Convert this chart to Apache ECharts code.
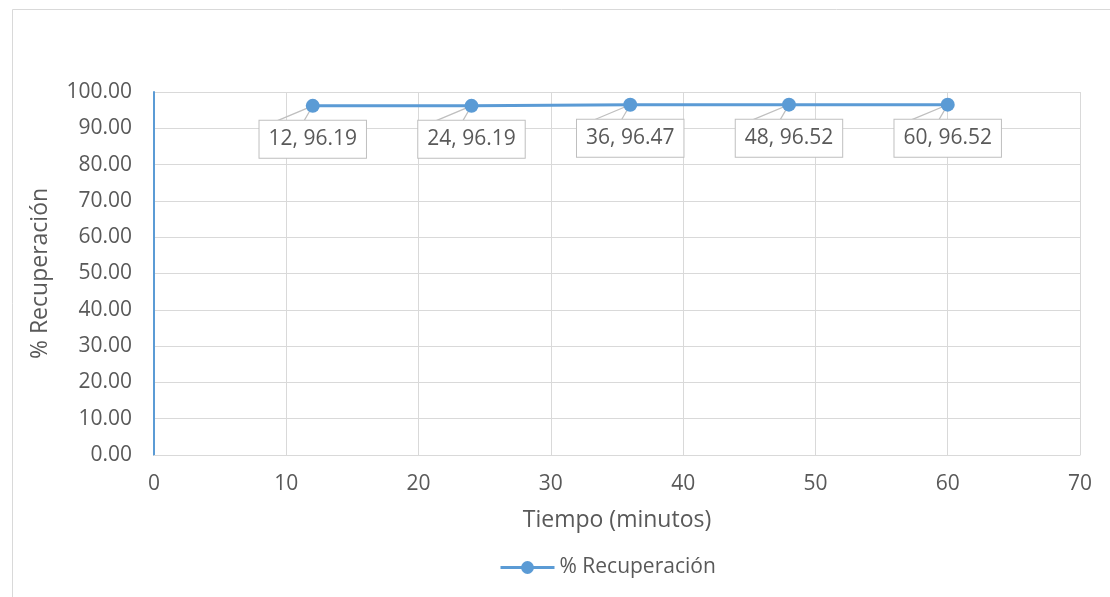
<!DOCTYPE html>
<html>
<head>
<meta charset="utf-8">
<script src="https://cdn.jsdelivr.net/npm/echarts@6/dist/echarts.min.js"></script>
<style>
  html, body { margin: 0; padding: 0; background: #ffffff; }
  #chart { width: 1110px; height: 597px; }
</style>
</head>
<body>
<div id="chart"></div>
<script>
// Recovery percentage over time
const tiempos = [12, 24, 36, 48, 60];
const recuperacion = [96.19, 96.19, 96.47, 96.52, 96.52];
const xTicks = [0, 10, 20, 30, 40, 50, 60, 70];
const yTicks = [0, 10, 20, 30, 40, 50, 60, 70, 80, 90, 100];

const serieNombre = '% Recuperación';
const ejeX = 'Tiempo (minutos)';
const ejeY = '% Recuperación';

const puntos = tiempos.map((t, i) => [t, recuperacion[i]]);

const textColor = '#595959';
const gridColor = '#D9D9D9';
const lineColor = '#5B9BD5';
const fontFam = '"Open Sans", "Noto Sans", sans-serif';

const chart = echarts.init(document.getElementById('chart'), null, { renderer: 'canvas' });

chart.setOption({
  animation: false,
  backgroundColor: '#ffffff',
  graphic: [{
    type: 'rect',
    left: 10, top: 7,
    shape: { width: 1120, height: 620 },
    style: { fill: 'none', stroke: gridColor, lineWidth: 1 },
    silent: true, z: -10
  }],
  grid: { left: 154, right: 30, top: 92, bottom: 142 },
  legend: {
    data: [serieNombre],
    bottom: 14,
    left: 494,
    itemWidth: 54,
    itemHeight: 16,
    itemGap: 8,
    lineStyle: { width: 3 },
    textStyle: { color: textColor, fontSize: 21, fontFamily: fontFam }
  },
  xAxis: {
    type: 'value',
    min: xTicks[0],
    max: xTicks[xTicks.length - 1],
    interval: xTicks[1] - xTicks[0],
    name: ejeX,
    nameLocation: 'middle',
    nameGap: 54,
    nameTextStyle: { color: textColor, fontSize: 23, fontFamily: fontFam },
    axisLine: { show: true, lineStyle: { color: gridColor, width: 1 } },
    axisTick: { show: false },
    axisLabel: { color: textColor, fontSize: 21, fontFamily: fontFam, margin: 19 },
    splitLine: { show: true, lineStyle: { color: gridColor, width: 1 } }
  },
  yAxis: {
    type: 'value',
    min: yTicks[0],
    max: yTicks[yTicks.length - 1],
    interval: yTicks[1] - yTicks[0],
    name: ejeY,
    nameLocation: 'middle',
    nameRotate: 90,
    nameGap: 102,
    nameTextStyle: { color: textColor, fontSize: 23, fontFamily: fontFam },
    axisLine: { show: true, lineStyle: { color: lineColor, width: 2 } },
    axisTick: { show: false },
    axisLabel: {
      color: textColor, fontSize: 21, fontFamily: fontFam, margin: 22,
      formatter: v => v.toFixed(2)
    },
    splitLine: { show: true, lineStyle: { color: gridColor, width: 1 } }
  },
  series: [
    {
      // callout pointers from each label box up to its point
      type: 'custom',
      name: 'callout',
      data: puntos,
      z: 1,
      silent: true,
      renderItem: function (params, api) {
        const p = api.coord([api.value(0), api.value(1)]);
        return {
          type: 'polyline',
          shape: { points: [[p[0] - 37, p[1] + 15.5], [p[0], p[1]], [p[0] - 9, p[1] + 15.5]] },
          style: { fill: 'none', stroke: '#BFBFBF', lineWidth: 1.2 }
        };
      }
    },
    {
      type: 'line',
      name: serieNombre,
      data: puntos,
      z: 3,
      symbol: 'circle',
      symbolSize: 14,
      lineStyle: { color: lineColor, width: 3 },
      itemStyle: { color: lineColor },
      label: {
        show: true,
        position: 'bottom',
        distance: 8,
        formatter: p => p.value[0] + ', ' + p.value[1].toFixed(2),
        color: textColor,
        fontSize: 21,
        lineHeight: 21,
        fontFamily: fontFam,
        backgroundColor: '#ffffff',
        borderColor: '#BFBFBF',
        borderWidth: 1,
        padding: [8, 9, 8, 9]
      }
    }
  ]
});
</script>
</body>
</html>
